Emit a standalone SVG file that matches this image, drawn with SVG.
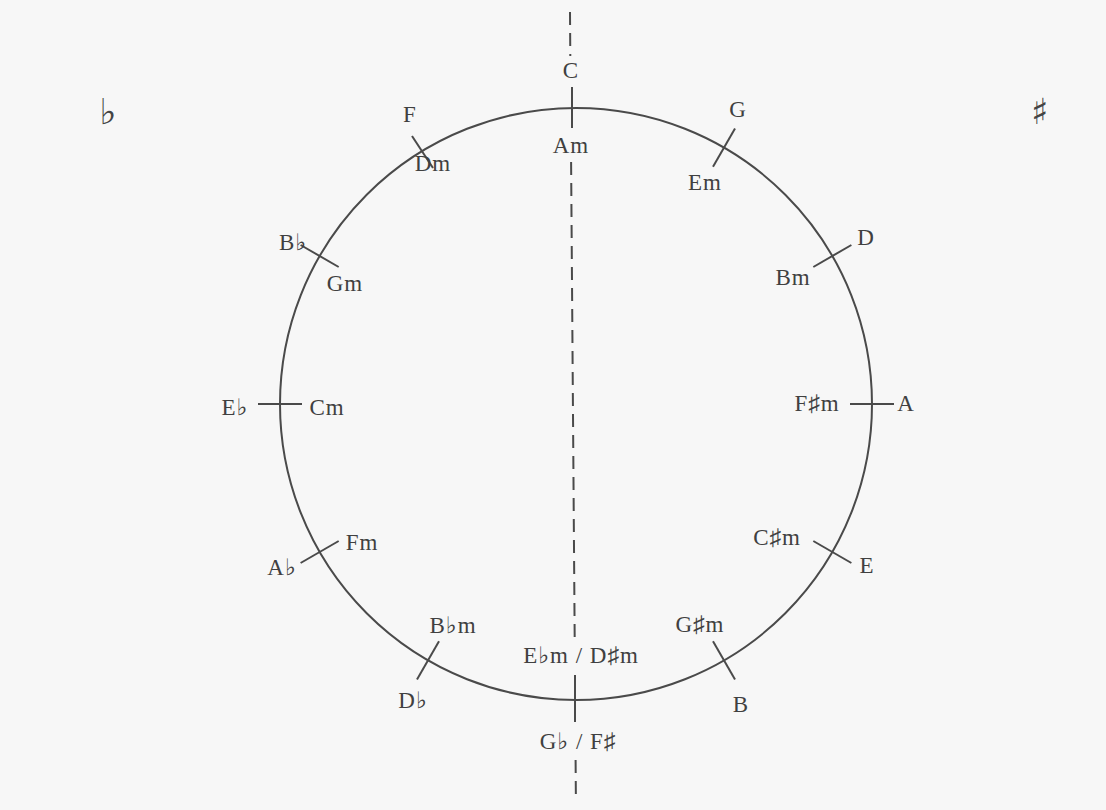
<svg xmlns="http://www.w3.org/2000/svg" width="1106" height="810" viewBox="0 0 1106 810">
<style>
.t{font-family:"Liberation Serif","DejaVu Serif",serif;font-size:23px;letter-spacing:1px;fill:#404040;text-anchor:middle}
.k{stroke:#4a4a4a;stroke-width:2;fill:none}
.d{stroke:#4a4a4a;stroke-width:2;stroke-dasharray:13 8;fill:none}
.sym{font-family:"DejaVu Sans",sans-serif;font-size:36px;fill:#444;text-anchor:middle}
</style>
<rect width="1106" height="810" fill="#f7f7f7"/>
<g id="circle"><circle cx="576" cy="404" r="296" class="k"/></g>
<g id="connectors">
<line class="d" x1="570" y1="12" x2="570.3" y2="56"/>
<line class="d" x1="571.1" y1="162" x2="574.7" y2="640"/>
<line class="d" x1="575.6" y1="760" x2="575.9" y2="800"/>
<line class="k" x1="572" y1="87" x2="572" y2="128"/>
<line class="k" x1="575" y1="675" x2="575" y2="722"/>
<line class="k" x1="713" y1="166.7" x2="735" y2="128.6"/>
<line class="k" x1="813.3" y1="267" x2="851.4" y2="245"/>
<line class="k" x1="850" y1="404" x2="894" y2="404"/>
<line class="k" x1="813.3" y1="541" x2="851.4" y2="563"/>
<line class="k" x1="713" y1="641.3" x2="735" y2="679.4"/>
<line class="k" x1="439" y1="641.3" x2="417" y2="679.4"/>
<line class="k" x1="338.7" y1="541" x2="300.6" y2="563"/>
<line class="k" x1="302" y1="404" x2="258" y2="404"/>
<line class="k" x1="338.7" y1="267" x2="300.6" y2="245"/>
<line class="k" x1="433" y1="168" x2="412" y2="136"/>
</g>
<g id="n-C"><text class="t" x="571" y="78">C</text><text class="t" x="571" y="153">Am</text></g>
<g id="n-G"><text class="t" x="738" y="117">G</text><text class="t" x="705" y="190">Em</text></g>
<g id="n-D"><text class="t" x="866" y="245">D</text><text class="t" x="793" y="285">Bm</text></g>
<g id="n-A"><text class="t" x="906" y="411">A</text><text class="t" x="817" y="411">F♯m</text></g>
<g id="n-E"><text class="t" x="867" y="573">E</text><text class="t" x="777" y="545">C♯m</text></g>
<g id="n-B"><text class="t" x="741" y="712">B</text><text class="t" x="700" y="632">G♯m</text></g>
<g id="n-Gb"><text class="t" x="578" y="749">G♭ / F♯</text><text class="t" x="581" y="663">E♭m / D♯m</text></g>
<g id="n-Db"><text class="t" x="413" y="708">D♭</text><text class="t" x="453" y="633">B♭m</text></g>
<g id="n-Ab"><text class="t" x="282" y="575">A♭</text><text class="t" x="362" y="550">Fm</text></g>
<g id="n-Eb"><text class="t" x="235" y="415">E♭</text><text class="t" x="327" y="415">Cm</text></g>
<g id="n-Bb"><text class="t" x="293" y="250">B♭</text><text class="t" x="345" y="291">Gm</text></g>
<g id="n-F"><text class="t" x="410" y="122">F</text><text class="t" x="433" y="171">Dm</text></g>
<g id="flat"><text class="sym" x="108" y="124">♭</text></g>
<g id="sharp"><text class="sym" x="1040" y="124">♯</text></g>
</svg>
